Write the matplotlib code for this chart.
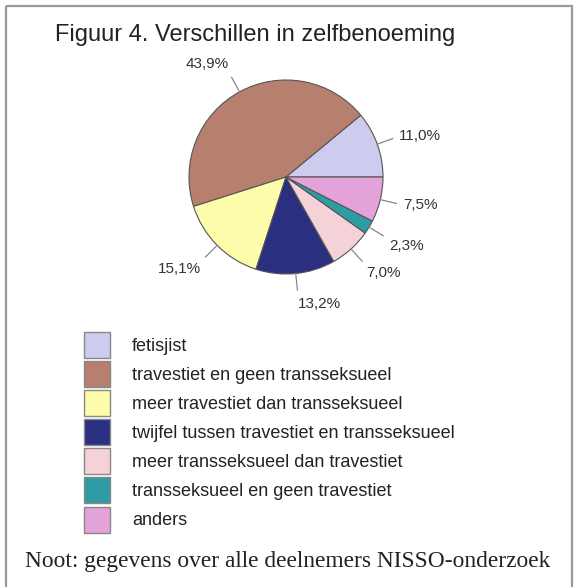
import numpy as np
import matplotlib
matplotlib.use("Agg")
import matplotlib.pyplot as plt
from matplotlib.patches import Rectangle, Patch
from matplotlib.transforms import Affine2D

categories = ["fetisjist",
              "travestiet en geen transseksueel",
              "meer travestiet dan transseksueel",
              "twijfel tussen travestiet en transseksueel",
              "meer transseksueel dan travestiet",
              "transseksueel en geen travestiet",
              "anders"]
values = [11.0, 43.9, 15.1, 13.2, 7.0, 2.3, 7.5]
value_labels = ["11,0%", "43,9%", "15,1%", "13,2%", "7,0%", "2,3%", "7,5%"]
colors = ["#CDCBEE", "#B67F6E", "#FCFCAA", "#2B2F80", "#F5D2D8", "#2E9BA5", "#E3A3D8"]

W, H = 577, 587
fig = plt.figure(figsize=(W / 100, H / 100), dpi=100)
fig.patch.set_facecolor("white")

# frame (left, top, right visible)
px = Affine2D().scale(1 / W, -1 / H).translate(0, 1)
frame = Rectangle((6, 6), 566, 640, transform=px + fig.transFigure,
                  fill=False, edgecolor="#9a9a9a", linewidth=1.6)
fig.add_artist(frame)

# pie axes: center (286,177), radius 97 px
cx, cy, r = 286, 177, 97
pad = 1.6
ax = fig.add_axes([(cx - r * pad) / W, 1 - (cy + r * pad) / H, 2 * r * pad / W, 2 * r * pad / H])

wedges, _ = ax.pie(values, colors=colors, startangle=0, counterclock=True, radius=1.0,
                   wedgeprops=dict(edgecolor="#555555", linewidth=0.8))
ax.set_xlim(-pad, pad)
ax.set_ylim(-pad, pad)
ax.set_aspect("equal")
ax.axis("off")

cum = np.cumsum([0] + values[:-1])
for v, c0, lab in zip(values, cum, value_labels):
    ang = np.deg2rad((c0 + v / 2) / 100 * 360)
    ca, sa = np.cos(ang), np.sin(ang)
    ax.plot([ca * 1.0, ca * 1.17], [sa * 1.0, sa * 1.17], color="#888888", lw=0.9)
    ha = "left" if ca > 0.05 else ("right" if ca < -0.05 else "center")
    va = "bottom" if sa > 0.7 else ("top" if sa < -0.45 else "center")
    ax.text(ca * 1.24, sa * 1.24, lab, ha=ha, va=va, fontsize=11,
            family="Liberation Sans", color="#333333")

fig.text(255 / W, 1 - 35 / H, "Figuur 4. Verschillen in zelfbenoeming", ha="center", va="center",
         fontsize=17, family="Liberation Sans", color="#222222")

handles = [Patch(facecolor=c, edgecolor="#888888", linewidth=1.0) for c in colors]
fs = 13
fig.legend(handles, categories, loc="upper left",
           bbox_to_anchor=(84 / W, 1 - 332 / H), frameon=False, borderpad=0, borderaxespad=0,
           prop=dict(family="Liberation Sans", size=fs), handlelength=1.44, handleheight=1.84,
           labelspacing=0.17, handletextpad=1.22, labelcolor="#222222")

fig.text(288 / W, 1 - 562 / H, "Noot: gegevens over alle deelnemers NISSO-onderzoek", ha="center",
         va="center", fontsize=16.8, family="Liberation Serif", color="#222222")

fig.savefig("out.png", dpi=100, facecolor="white")
